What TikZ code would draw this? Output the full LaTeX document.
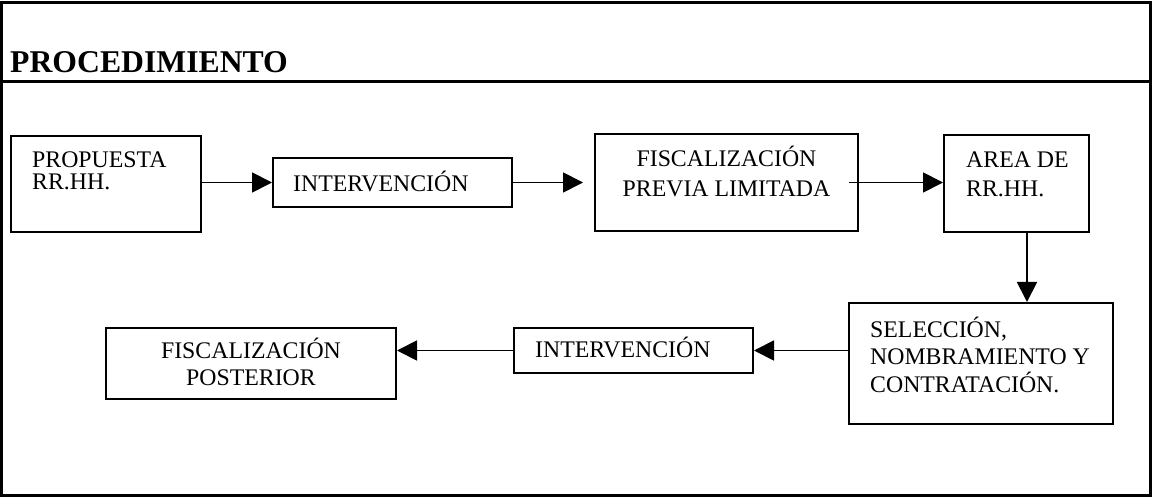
\documentclass[tikz,border=0pt]{standalone}
\usepackage{fontspec}
\setmainfont{Liberation Serif}
\usetikzlibrary{arrows.meta}

\begin{document}
\begin{tikzpicture}[x=1pt, y=-1pt,
    box/.style={draw=black, line width=2pt, inner sep=0pt},
    txt/.style={inner sep=0pt, anchor=base west, font=\fontsize{23.8}{27}\selectfont},
    arr/.style={line width=1.8pt, -{Triangle[length=20pt, width=20pt]}}]

    \useasboundingbox (0,0) rectangle (1152,497);

    % Frame and header
    \draw[line width=3pt] (1.5,3) rectangle (1150,495);
    \draw[line width=3pt] (1.5,82) -- (1150,82);
    \node[inner sep=0pt, anchor=base west, font=\bfseries\fontsize{31.7}{36}\selectfont] (title) at (10,73) {PROCEDIMIENTO};

    % Top row
    \node[box, minimum width=190pt, minimum height=96pt] (prop) at (106,184) {};
    \node[box, minimum width=239pt, minimum height=49pt] (int1) at (392.5,182.5) {};
    \node[box, minimum width=263pt, minimum height=97pt] (fisc) at (726.5,182.5) {};
    \node[box, minimum width=145pt, minimum height=97pt] (area) at (1016.5,183.5) {};

    % Bottom row
    \node[box, minimum width=264pt, minimum height=121pt] (sel) at (981,363.5) {};
    \node[box, minimum width=239pt, minimum height=45pt] (int2) at (633.5,350.5) {};
    \node[box, minimum width=290pt, minimum height=71pt] (post) at (251,363.5) {};

    % Texts (base = last line)
    \node[txt, align=left, font=\fontsize{23.8}{22}\selectfont] (propt) at (32,190) {PROPUESTA\\RR.HH.};
    \node[txt] (int1t) at (293,192) {INTERVENCIÓN};
    \node[txt, anchor=base, align=center, font=\fontsize{23.8}{30}\selectfont] (fisct) at (726.5,197) {FISCALIZACIÓN\\PREVIA LIMITADA};
    \node[txt, align=left, font=\fontsize{23.8}{29}\selectfont] (areat) at (966,197) {AREA DE\\RR.HH.};
    \node[txt, align=left, font=\fontsize{23.8}{27.5}\selectfont] (selt) at (870,392) {SELECCIÓN,\\NOMBRAMIENTO Y\\CONTRATACIÓN.};
    \node[txt] (int2t) at (535,357) {INTERVENCIÓN};
    \node[txt, anchor=base, align=center] (postt) at (251,385) {FISCALIZACIÓN\\POSTERIOR};

    % Arrows
    \draw[arr] (prop.east |- int1.west) -- (int1.west);
    \draw[arr] (int1.east) -- ([xshift=-11pt]fisc.west);
    \draw[arr] ([xshift=-10pt]fisc.east) -- (fisc.east -| area.west);
    \draw[arr] ([xshift=10.5pt]area.south) -- ([xshift=10.5pt]area.south |- sel.north);
    \draw[arr] (sel.west |- int2.east) -- (int2.east);
    \draw[arr] (int2.west) -- (post.east |- int2.west);

\end{tikzpicture}
\end{document}
